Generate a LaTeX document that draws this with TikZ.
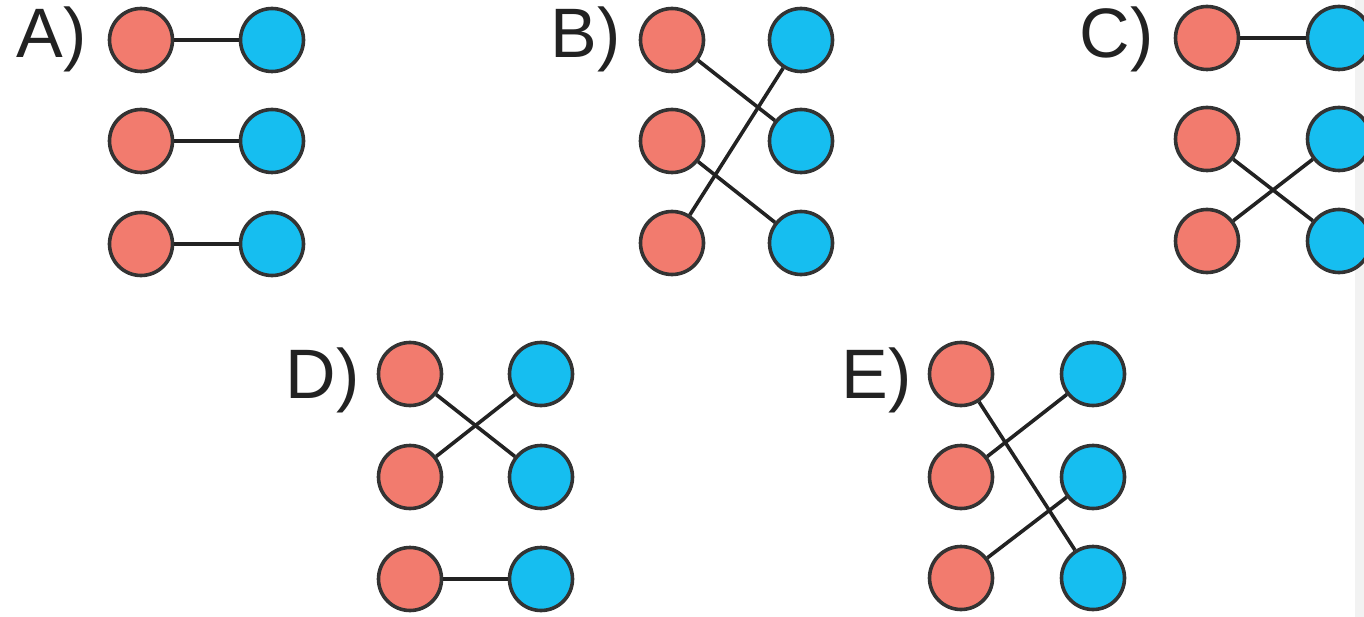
\documentclass[tikz,border=0pt]{standalone}
\usepackage{fontspec}
\setmainfont{Liberation Sans}
\definecolor{rd}{HTML}{F27B6E}
\definecolor{bl}{HTML}{16BEF0}
\definecolor{ol}{HTML}{333333}
\definecolor{ln}{HTML}{222222}
\definecolor{band}{HTML}{F2F2F2}
\tikzset{
  rn/.style={circle, fill=rd, draw=ol, line width=3.6pt, minimum size=63pt, inner sep=0pt},
  bn/.style={circle, fill=bl, draw=ol, line width=3.6pt, minimum size=63pt, inner sep=0pt},
  lab/.style={anchor=base east, font=\fontsize{70}{70}\selectfont, text=ln, inner sep=0pt},
  edge/.style={draw=ln, line width=3.6pt}
}
\begin{document}
\begin{tikzpicture}[x=1pt, y=-1pt]
\useasboundingbox (0,0) rectangle (1364,617);
\clip (0,0) rectangle (1364,617);
\fill[band] (1355,0) rectangle (1364,617);
% A
\node[lab] (la) at (87,58) {A)};
\node[rn] (a1) at (141,40) {};
\node[rn] (a2) at (141,141) {};
\node[rn] (a3) at (141,244) {};
\node[bn] (A1) at (272,40) {};
\node[bn] (A2) at (272,141) {};
\node[bn] (A3) at (272,244) {};
\draw[edge] (a1) -- (A1);
\draw[edge] (a2) -- (A2);
\draw[edge] (a3) -- (A3);
% B
\node[lab] (lb) at (621,58) {B)};
\node[rn] (b1) at (672,40) {};
\node[rn] (b2) at (672,141) {};
\node[rn] (b3) at (672,243) {};
\node[bn] (B1) at (801,40) {};
\node[bn] (B2) at (801,141) {};
\node[bn] (B3) at (801,243) {};
\draw[edge] (b1) -- (B2);
\draw[edge] (b2) -- (B3);
\draw[edge] (b3) -- (B1);
% C
\node[lab] (lc) at (1154,58) {C)};
\node[rn] (c1) at (1207,38) {};
\node[rn] (c2) at (1207,139) {};
\node[rn] (c3) at (1207,241) {};
\node[bn] (C1) at (1339,38) {};
\node[bn] (C2) at (1339,139) {};
\node[bn] (C3) at (1339,241) {};
\draw[edge] (c1) -- (C1);
\draw[edge] (c2) -- (C3);
\draw[edge] (c3) -- (C2);
% D
\node[lab] (ld) at (360,398) {D)};
\node[rn] (d1) at (410,374) {};
\node[rn] (d2) at (410,477) {};
\node[rn] (d3) at (410,579) {};
\node[bn] (D1) at (541,374) {};
\node[bn] (D2) at (541,477) {};
\node[bn] (D3) at (541,579) {};
\draw[edge] (d1) -- (D2);
\draw[edge] (d2) -- (D1);
\draw[edge] (d3) -- (D3);
% E
\node[lab] (le) at (912,398) {E)};
\node[rn] (e1) at (961,374) {};
\node[rn] (e2) at (961,477) {};
\node[rn] (e3) at (961,578) {};
\node[bn] (E1) at (1093,374) {};
\node[bn] (E2) at (1093,477) {};
\node[bn] (E3) at (1093,578) {};
\draw[edge] (e1) -- (E3);
\draw[edge] (e2) -- (E1);
\draw[edge] (e3) -- (E2);
\end{tikzpicture}
\end{document}
